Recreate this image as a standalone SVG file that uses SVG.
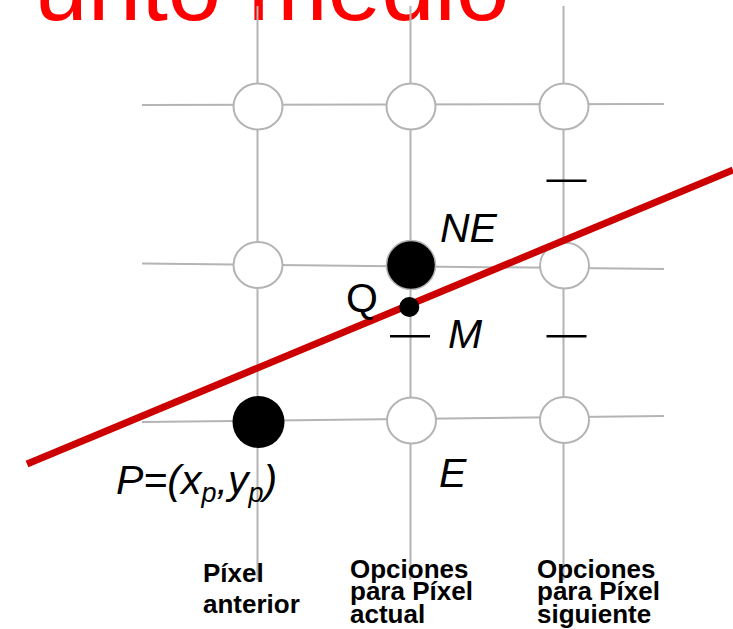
<svg xmlns="http://www.w3.org/2000/svg" width="733" height="629" viewBox="0 0 733 629">
<style>
.grid{stroke:#b4b4b4;stroke-width:2;fill:none}
.px{fill:#fff;stroke:#b4b4b4;stroke-width:2}
.on{fill:#000}
.tick{stroke:#000;stroke-width:2.5}
.lbl{font-family:"Liberation Sans",Arial,sans-serif;font-size:41px;fill:#000}
.it{font-style:italic}
.cap{font-family:"Liberation Sans",Arial,sans-serif;font-size:26px;font-weight:bold;fill:#000}
</style>
<rect width="733" height="629" fill="#fff"/>
<text x="-29.7" y="19.5" font-family="Liberation Sans, Arial, sans-serif" font-size="96" fill="#ff0000">Punto medio</text>
<g id="grid">
<line class="grid" x1="257.5" y1="6" x2="257.5" y2="580"/>
<line class="grid" x1="410.5" y1="6" x2="410.5" y2="580"/>
<line class="grid" x1="563.5" y1="6" x2="563.5" y2="580"/>
<line class="grid" x1="142" y1="105" x2="664" y2="104"/>
<line class="grid" x1="142" y1="263.5" x2="664" y2="269"/>
<line class="grid" x1="142" y1="422" x2="664" y2="416"/>
</g>
<g id="px-0-0"><ellipse class="px" cx="258" cy="106.5" rx="24.5" ry="23"/></g>
<g id="px-1-0"><ellipse class="px" cx="411" cy="106.5" rx="24.5" ry="23"/></g>
<g id="px-2-0"><ellipse class="px" cx="564" cy="106.5" rx="24.5" ry="23"/></g>
<g id="px-0-1"><ellipse class="px" cx="258" cy="265" rx="24.5" ry="23"/></g>
<g id="px-NE"><circle cx="411" cy="265" r="24.5" fill="#000" stroke="#b4b4b4" stroke-width="1.5"/></g>
<g id="px-2-1"><ellipse class="px" cx="564.5" cy="265.5" rx="24.5" ry="23"/></g>
<g id="px-P"><circle class="on" cx="258.5" cy="422" r="26"/></g>
<g id="px-E"><ellipse class="px" cx="411.5" cy="420.5" rx="24.5" ry="23"/></g>
<g id="px-2-2"><ellipse class="px" cx="564.5" cy="420" rx="24.5" ry="23"/></g>
<g id="ticks">
<line class="tick" x1="546.5" y1="180.7" x2="586.5" y2="180.7"/>
<line class="tick" x1="390" y1="336.3" x2="430" y2="336.3"/>
<line class="tick" x1="546.5" y1="336.3" x2="586.5" y2="336.3"/>
</g>
<g id="connectors">
<line x1="27" y1="464" x2="733" y2="170" stroke="#cc0000" stroke-width="7"/>
</g>
<g id="Q"><circle class="on" cx="409.3" cy="307" r="10"/></g>
<text class="lbl it" x="440" y="242">NE</text>
<text class="lbl" x="346" y="312">Q</text>
<text class="lbl it" x="448" y="348">M</text>
<text class="lbl it" x="439" y="487" font-size="43">E</text>
<text class="lbl it" x="116" y="494" font-size="42">P=(x<tspan font-size="27" dy="8">p</tspan><tspan dy="-8">,y</tspan><tspan font-size="27" dy="8">p</tspan><tspan dy="-8">)</tspan></text>
<g id="cap-prev"><text class="cap" x="203" y="582">Píxel</text><text class="cap" x="203" y="613">anterior</text></g>
<g id="cap-cur"><text class="cap" x="350" y="577.5">Opciones</text><text class="cap" x="350" y="600">para Píxel</text><text class="cap" x="350" y="622.5">actual</text></g>
<g id="cap-next"><text class="cap" x="537" y="577.5">Opciones</text><text class="cap" x="537" y="600">para Píxel</text><text class="cap" x="537" y="622.5">siguiente</text></g>
</svg>
